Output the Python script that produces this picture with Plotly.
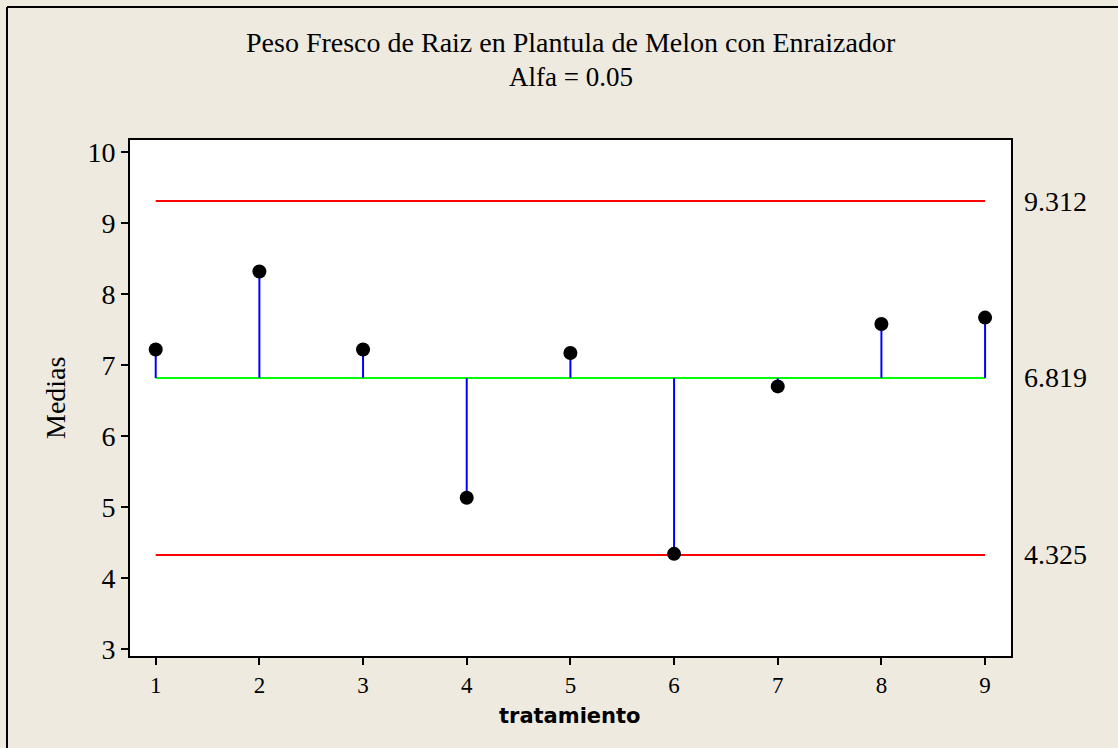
import plotly.graph_objects as go

# Treatment means and ANOM decision limits
tratamientos = [1, 2, 3, 4, 5, 6, 7, 8, 9]
medias = [7.22, 8.32, 7.22, 5.13, 7.17, 4.34, 6.70, 7.58, 7.67]
centro = 6.819
lim_sup = 9.312
lim_inf = 4.325

W, H = 1118, 748
ml, mr, mt, mb = 130, 107, 140, 92
pw, ph = W - ml - mr, H - mt - mb

BG = "#EEEAE0"
SERIF = "Liberation Serif, Times New Roman, serif"

fig = go.Figure()

# Decision limits and centre line
x0, x1 = min(tratamientos), max(tratamientos)
for y, col in [(lim_sup, "#FF0000"), (lim_inf, "#FF0000"), (centro, "#00FF00")]:
    fig.add_trace(go.Scatter(x=[x0, x1], y=[y, y], mode="lines",
                             line=dict(color=col, width=2), hoverinfo="skip"))

# Stems from centre line to each mean
sx, sy = [], []
for t, m in zip(tratamientos, medias):
    sx += [t, t, None]
    sy += [centro, m, None]
fig.add_trace(go.Scatter(x=sx, y=sy, mode="lines",
                         line=dict(color="#0000FF", width=2), hoverinfo="skip"))

# Means
fig.add_trace(go.Scatter(x=tratamientos, y=medias, mode="markers",
                         marker=dict(color="black", size=14, symbol="circle")))

# Limit labels on the right
annotations = []
for v in [lim_sup, centro, lim_inf]:
    annotations.append(dict(x=(1022 - ml) / pw, xref="paper", y=v, yref="y",
                            text=f"{v:.3f}", showarrow=False, xanchor="left",
                            font=dict(family=SERIF, size=28, color="black")))

# Titles
annotations.append(dict(x=0.5, xref="paper", y=1 + (mt - 42) / ph, yref="paper",
                        text="Peso Fresco de Raiz en Plantula de Melon con Enraizador",
                        showarrow=False, xanchor="center", yanchor="middle",
                        font=dict(family=SERIF, size=28, color="black")))
annotations.append(dict(x=0.5, xref="paper", y=1 + (mt - 77) / ph, yref="paper",
                        text="Alfa = 0.05", showarrow=False, xanchor="center",
                        yanchor="middle", font=dict(family=SERIF, size=27, color="black")))
annotations.append(dict(x=(55 - ml) / pw, xref="paper", y=(mt + ph - 398) / ph, yref="paper",
                        text="Medias", showarrow=False, textangle=-90,
                        xanchor="center", yanchor="middle",
                        font=dict(family=SERIF, size=28, color="black")))
annotations.append(dict(x=(570 - ml) / pw, xref="paper", y=-(716 - (mt + ph)) / ph,
                        yref="paper", text="<b>tratamiento</b>", showarrow=False,
                        xanchor="center", yanchor="middle",
                        font=dict(family="DejaVu Sans, Verdana, sans-serif", size=21,
                                  color="black")))

# Outer frame on left and top
shapes = [dict(type="line", xref="paper", yref="paper",
               x0=(7 - ml) / pw, x1=(7 - ml) / pw,
               y0=-(mb + 5) / ph, y1=1 + (mt - 7) / ph,
               line=dict(color="black", width=2)),
          dict(type="line", xref="paper", yref="paper",
               x0=(7 - ml) / pw, x1=(W + 5 - ml) / pw,
               y0=1 + (mt - 7) / ph, y1=1 + (mt - 7) / ph,
               line=dict(color="black", width=2))]

fig.update_layout(
    width=W, height=H,
    margin=dict(l=ml, r=mr, t=mt, b=mb),
    paper_bgcolor=BG, plot_bgcolor="white",
    showlegend=False,
    annotations=annotations,
    shapes=shapes,
    xaxis=dict(range=[0.752, 9.25], tickvals=tratamientos,
               ticktext=[str(t) for t in tratamientos],
               ticks="outside", ticklen=7, tickwidth=2, tickcolor="black",
               showgrid=False, zeroline=False,
               showline=True, linecolor="black", linewidth=2, mirror=True,
               tickfont=dict(family=SERIF, size=23, color="black")),
    yaxis=dict(range=[2.90, 10.173], tickvals=[3, 4, 5, 6, 7, 8, 9, 10],
               ticks="outside", ticklen=7, tickwidth=2, tickcolor="black",
               showgrid=False, zeroline=False,
               showline=True, linecolor="black", linewidth=2, mirror=True,
               tickfont=dict(family=SERIF, size=28, color="black")),
)

fig.write_html("out.html")
